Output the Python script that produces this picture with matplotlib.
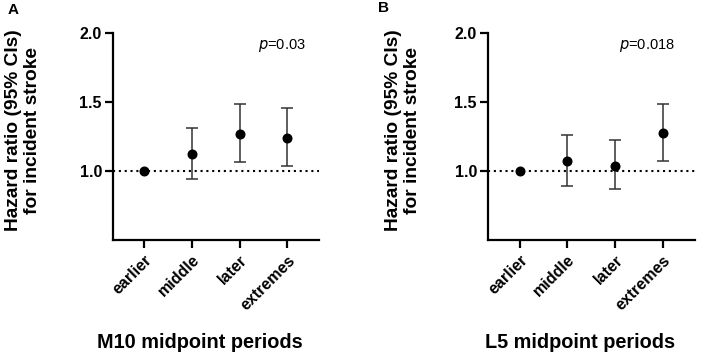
import matplotlib
matplotlib.use("Agg")
import matplotlib.pyplot as plt

plt.rcParams['font.family'] = ['Liberation Sans', 'DejaVu Sans']

categories = ["earlier", "middle", "later", "extremes"]

hr_a = [1.0, 1.12, 1.27, 1.24]
lo_a = [1.0, 0.945, 1.065, 1.038]
hi_a = [1.0, 1.314, 1.486, 1.459]

hr_b = [1.0, 1.07, 1.038, 1.273]
lo_b = [1.0, 0.89, 0.867, 1.072]
hi_b = [1.0, 1.26, 1.222, 1.486]

yticks = [1.0, 1.5, 2.0]
panel_letters = ["A", "B"]
xlabels = ["M10 midpoint periods", "L5 midpoint periods"]
pvals = ["0.03", "0.018"]
ylabel = "Hazard ratio (95% CIs)\nfor incident stroke"

fig = plt.figure(figsize=(7.09, 3.56), dpi=100)

panels = [
    dict(rect=[113/709, 1-240/356, 206/709, 207/356], hr=hr_a, lo=lo_a, hi=hi_a,
         letter_xy=(13/709, 1-10/356), ylab_x=23/709, xlab_x=200/709, p_x=0.82),
    dict(rect=[488/709, 1-240/356, 207/709, 207/356], hr=hr_b, lo=lo_b, hi=hi_b,
         letter_xy=(383/709, 1-8/356), ylab_x=403/709, xlab_x=580/709, p_x=0.77),
]

for i, pnl in enumerate(panels):
    ax = fig.add_axes(pnl["rect"])
    x = list(range(len(categories)))
    ax.axhline(1.0, color="black", linestyle=(0, (1, 1.8)), linewidth=1.5, zorder=1)
    yerr = [[h - l for h, l in zip(pnl["hr"], pnl["lo"])],
            [u - h for h, u in zip(pnl["hr"], pnl["hi"])]]
    idx = [j for j in x if pnl["hi"][j] != pnl["lo"][j]]
    ax.errorbar([x[j] for j in idx], [pnl["hr"][j] for j in idx],
                yerr=[[yerr[0][j] for j in idx], [yerr[1][j] for j in idx]],
                fmt="none", ecolor="#333333", elinewidth=1.1, capsize=4.5, capthick=1.1, zorder=2)
    ax.plot(x, pnl["hr"], "o", color="black", markersize=6.2, zorder=3)
    ax.set_xlim(-0.66, 3.67)
    ax.set_ylim(0.5, 2.0)
    ax.set_yticks(yticks)
    ax.set_yticklabels([f"{v:.1f}" for v in yticks], fontsize=11.5, fontweight="bold")
    ax.set_xticks(x)
    ax.set_xticklabels(categories, rotation=45, ha="right", rotation_mode="anchor",
                       fontsize=11.5, fontweight="bold")
    for s in ["top", "right"]:
        ax.spines[s].set_visible(False)
    for s in ["left", "bottom"]:
        ax.spines[s].set_linewidth(1.6)
    ax.tick_params(axis="both", width=1.6, length=6, color="black", pad=2)
    ax.tick_params(axis="x", pad=3)
    ax.text(pnl["p_x"], 0.942, f"$\\it{{p}}$={pvals[i]}", transform=ax.transAxes, ha="center", va="center",
            fontsize=10.5)
    fig.text(pnl["letter_xy"][0], pnl["letter_xy"][1], panel_letters[i], fontsize=11,
             fontweight="bold", ha="center", va="center")
    fig.text(pnl["ylab_x"], 1-130/356, ylabel, rotation=90, ha="center", va="center",
             fontsize=13.8, fontweight="bold", linespacing=1.1)
    fig.text(pnl["xlab_x"], 1-343/356, xlabels[i], ha="center", va="center",
             fontsize=14.3, fontweight="bold")

fig.savefig("out.png", dpi=100)
